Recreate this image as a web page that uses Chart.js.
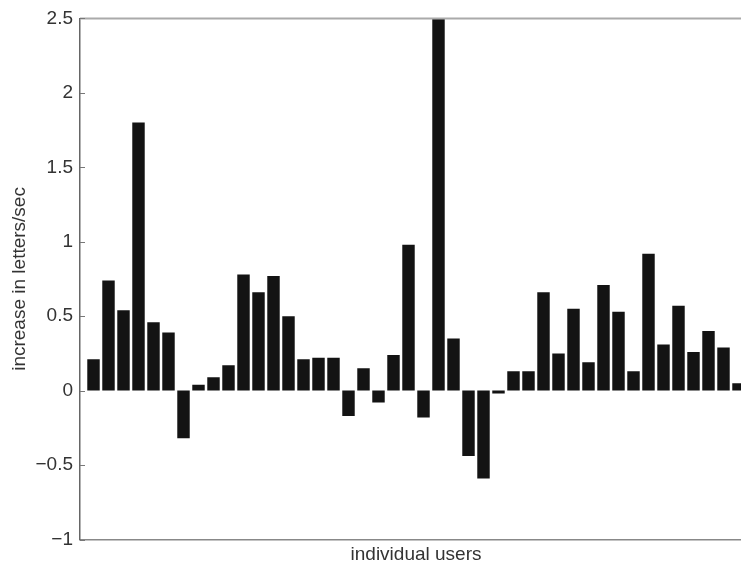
<!DOCTYPE html>
<html>
<head>
<meta charset="utf-8">
<script src="https://cdn.jsdelivr.net/npm/chart.js@4/dist/chart.umd.min.js"></script>
<style>
    html, body { margin: 0; padding: 0; background: #fff; overflow: hidden; }
    #wrap { width: 760px; height: 567px; }
</style>
</head>
<body>
<div id="wrap"><canvas id="chart" width="760" height="567"></canvas></div>
<script>
// values, one bar per user
var gains = [
    0.21, 0.74, 0.54, 1.80, 0.46, 0.39, -0.32, 0.04, 0.09, 0.17,
    0.78, 0.66, 0.77, 0.50, 0.21, 0.22, 0.22, -0.17, 0.15, -0.08,
    0.24, 0.98, -0.18, 2.50, 0.35, -0.44, -0.59, -0.02, 0.13, 0.13,
    0.66, 0.25, 0.55, 0.19, 0.71, 0.53, 0.13, 0.92, 0.31, 0.57,
    0.26, 0.40, 0.29, 0.05
];
var yTicks = [-1, -0.5, 0, 0.5, 1, 1.5, 2, 2.5];
var xTitle = 'individual users';
var yTitle = 'increase in letters/sec';

var points = gains.map(function(v, i) {
    return { x: i + 1, y: v };
});

var textColor = '#333';
var fontFamily = '"Liberation Sans", Arial, Helvetica, sans-serif';

// matlab style box: top edge + inward tick marks
var boxPlugin = {
    id: 'box',
    afterDraw: function(chart) {
        var ctx = chart.ctx;
        var area = chart.chartArea;
        var ys = chart.scales.y;
        ctx.save();
        ctx.strokeStyle = '#aaa';
        ctx.lineWidth = 2;
        ctx.beginPath();
        ctx.moveTo(area.left, area.top);
        ctx.lineTo(area.right, area.top);
        ctx.stroke();

        ctx.strokeStyle = '#777';
        ctx.lineWidth = 1;
        ys.ticks.forEach(function(t) {
            var py = Math.round(ys.getPixelForValue(t.value)) + 0.5;
            ctx.beginPath();
            ctx.moveTo(area.left, py);
            ctx.lineTo(area.left + 5, py);
            ctx.stroke();
        });
        ctx.restore();
    }
};

new Chart(document.getElementById('chart'), {
    type: 'bar',
    data: {
        datasets: [{
            data: points,
            backgroundColor: '#131313',
            borderWidth: 0,
            barPercentage: 0.83,
            categoryPercentage: 1
        }]
    },
    options: {
        responsive: false,
        animation: false,
        devicePixelRatio: 1,
        layout: { padding: { top: 13.5, right: 8, bottom: 0, left: 0 } },
        plugins: {
            legend: { display: false },
            tooltip: { enabled: false }
        },
        scales: {
            x: {
                type: 'linear',
                offset: false,
                min: 0.1,
                max: 44.9,
                grid: { display: false },
                border: { display: true, color: '#888', width: 1.5 },
                ticks: { display: false },
                title: {
                    display: true,
                    text: xTitle,
                    color: textColor,
                    font: { family: fontFamily, size: 19 },
                    padding: { top: 0, bottom: 1 }
                },
                afterFit: function(scale) { scale.height = 27.5; }
            },
            y: {
                min: -1,
                max: 2.5,
                grid: { display: false, drawTicks: false },
                border: { display: true, color: '#666', width: 1.5 },
                afterBuildTicks: function(scale) {
                    scale.ticks = yTicks.map(function(v) { return { value: v }; });
                },
                ticks: {
                    color: textColor,
                    padding: 7,
                    font: { family: fontFamily, size: 19 },
                    callback: function(v) {
                        return String(v).replace('-', '\u2212');
                    }
                },
                title: {
                    display: true,
                    text: yTitle,
                    color: textColor,
                    font: { family: fontFamily, size: 19 },
                    padding: { top: 8, bottom: 0 }
                },
                afterFit: function(scale) { scale.width = 80; }
            }
        }
    },
    plugins: [boxPlugin]
});
</script>
</body>
</html>
